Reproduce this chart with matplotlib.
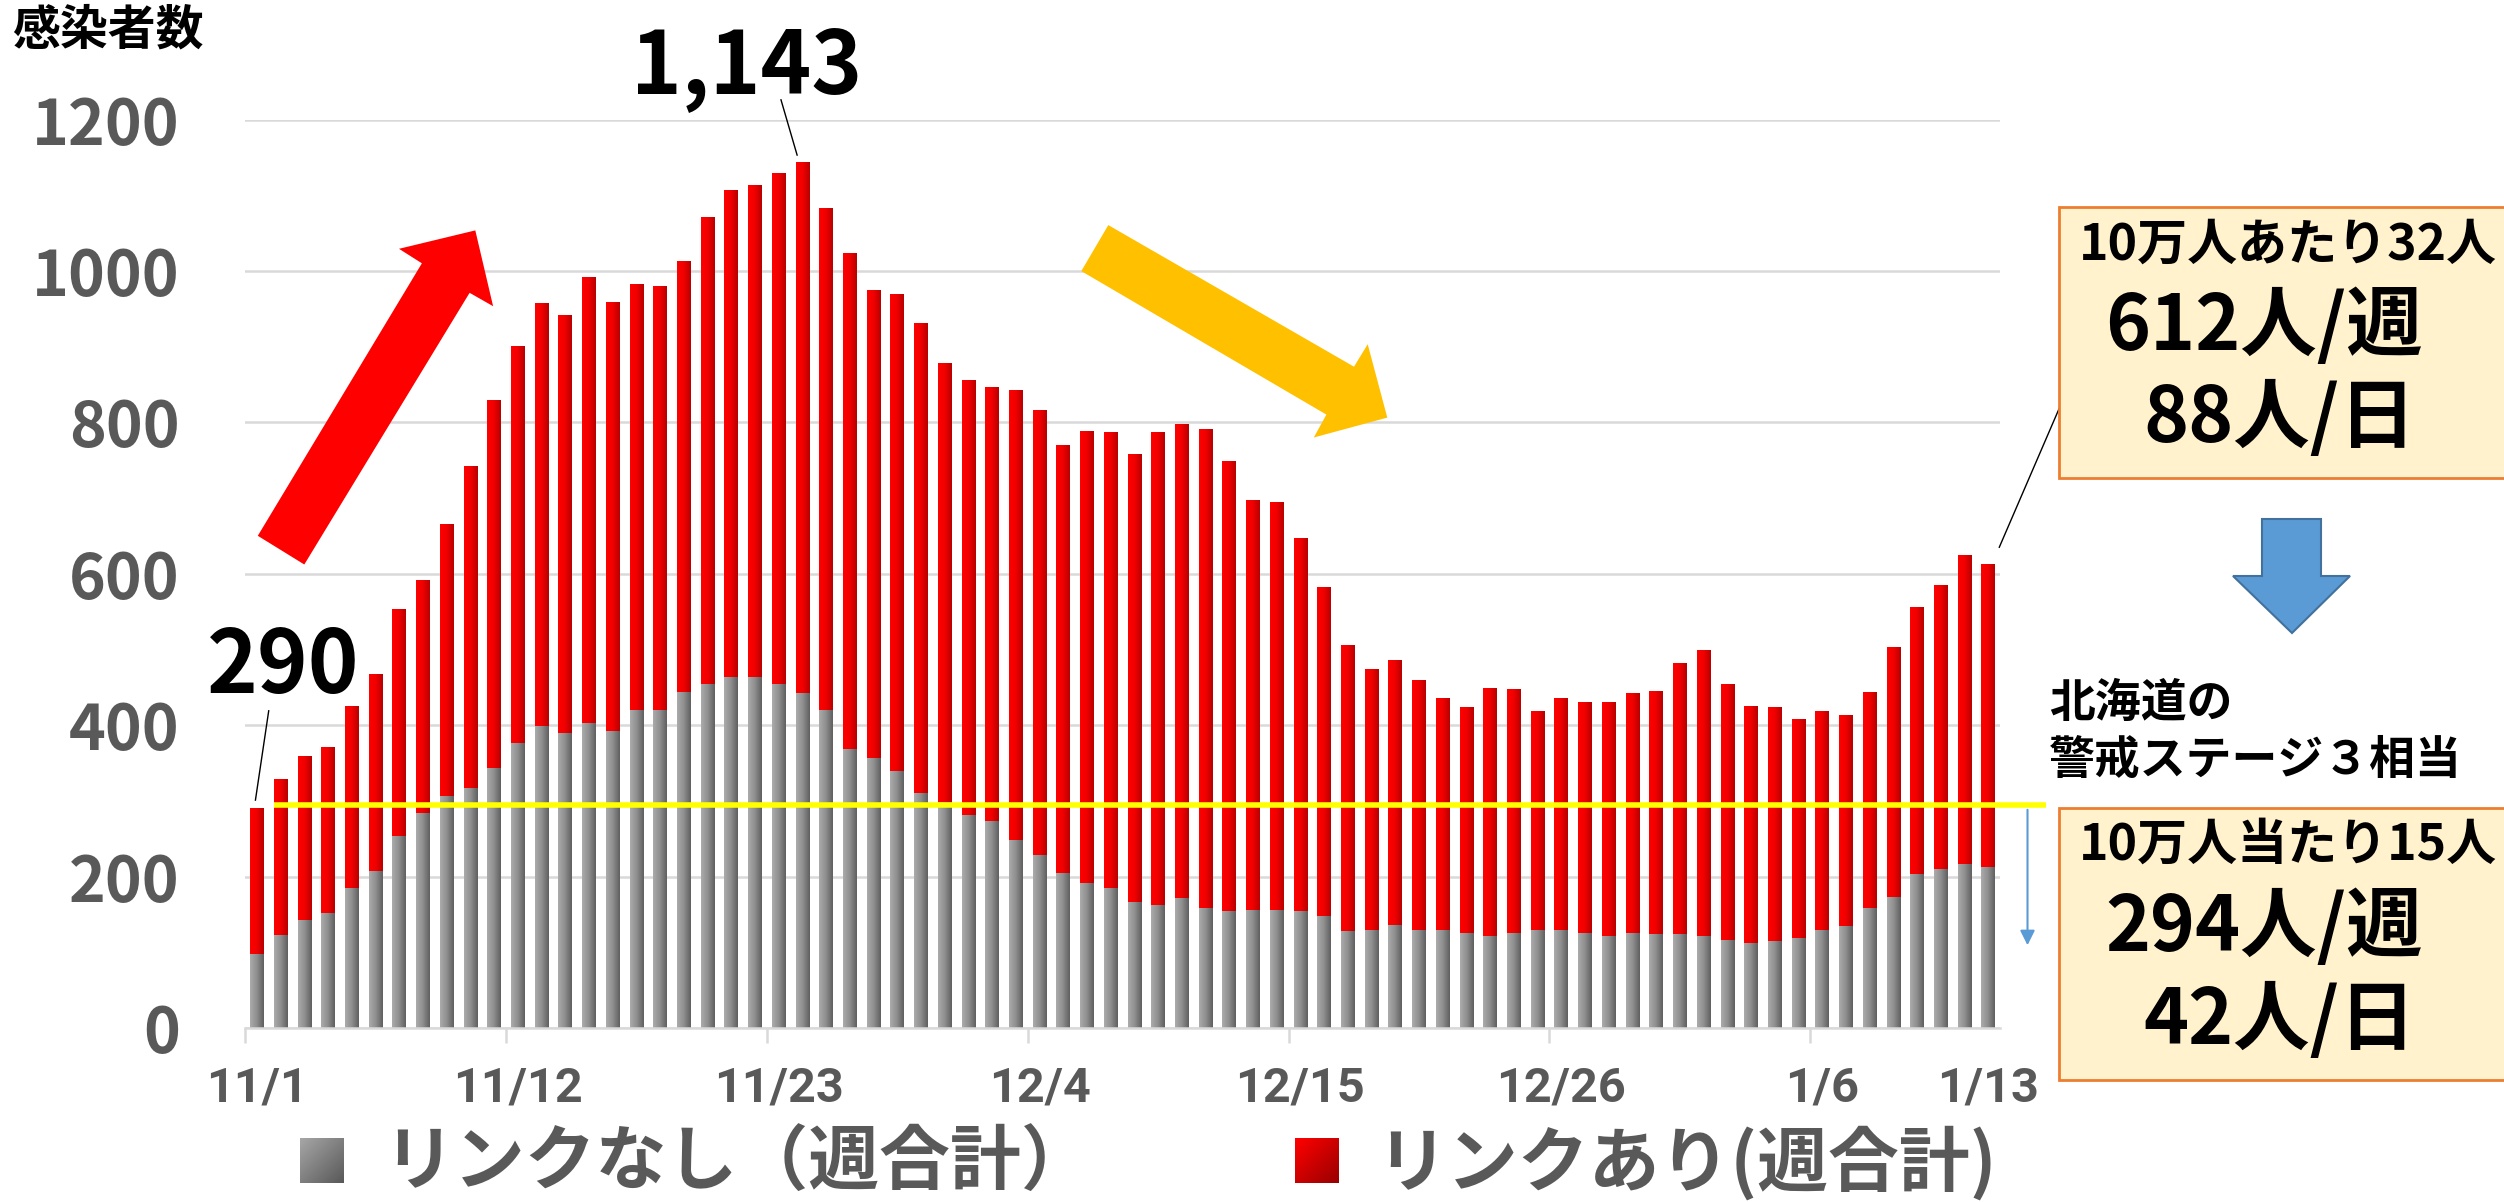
import numpy as np
import pandas as pd
import matplotlib
matplotlib.use('Agg')
import matplotlib.pyplot as plt
from matplotlib.colors import LinearSegmentedColormap
from matplotlib.patches import Polygon, Rectangle

plt.rcParams['font.family'] = ['Noto Sans CJK JP', 'DejaVu Sans']
plt.rcParams['font.weight'] = 'bold'

# data (weekly totals, 11/1 .. 1/13)
days = pd.date_range('2020-11-01', '2021-01-13')
dates = [f'{d.month}/{d.day}' for d in days]

no_link = [98, 123, 142, 152, 185, 207, 254, 284, 307, 317, 344, 376, 399, 389, 403,
           392, 420, 420, 444, 454, 464, 463, 454, 442, 420, 368, 356, 339, 311, 299,
           281, 273, 248, 228, 205, 191, 185, 167, 163, 172, 159, 155, 156, 156, 154,
           148, 128, 130, 136, 130, 130, 125, 122, 125, 130, 130, 126, 122, 125, 124,
           124, 122, 116, 112, 115, 119, 130, 135, 158, 173, 203, 210, 217, 213]
link = [192, 205, 216, 219, 240, 260, 299, 307, 359, 425, 485, 524, 558, 551, 588,
        566, 562, 559, 568, 616, 643, 649, 674, 701, 662, 655, 618, 629, 620, 579,
        574, 572, 594, 587, 565, 596, 602, 591, 624, 625, 632, 594, 541, 538, 492,
        434, 377, 344, 349, 330, 306, 298, 327, 322, 289, 306, 304, 308, 317, 320,
        357, 377, 338, 312, 309, 288, 289, 278, 285, 330, 352, 375, 407, 399]
threshold = 294  # Hokkaido stage 3 level (per week)
tick_idx = [0, 11, 22, 33, 44, 55, 66, 73]

total = [a + b for a, b in zip(no_link, link)]
W, H = 2504, 1202
GRID = '#d9d9d9'
TXT = '#595959'

fig = plt.figure(figsize=(W / 100, H / 100), dpi=100)
ax = fig.add_axes([245 / W, 1 - 1028 / H, 1755 / W, (1028 - 119.5) / H])

x = np.arange(len(dates))
bw = 0.57
b1 = ax.bar(x, no_link, width=bw, color='none', lw=0)
b2 = ax.bar(x, link, bottom=no_link, width=bw, color='none', lw=0)

gray_cmap = LinearSegmentedColormap.from_list('g', ['#ababab', '#8e8e8e', '#606060'])
red_cmap = LinearSegmentedColormap.from_list('r', ['#ff0000', '#f00000', '#b80000'])
hgrad = np.linspace(0, 1, 32).reshape(1, -1)
for bars, cm in ((b1, gray_cmap), (b2, red_cmap)):
    for p in bars:
        x0, y0 = p.get_xy()
        ax.imshow(hgrad, cmap=cm, aspect='auto', interpolation='bilinear',
                  extent=(x0, x0 + p.get_width(), y0, y0 + p.get_height()), zorder=2)

ax.set_xlim(-0.5, len(dates) - 0.5)
ax.set_ylim(0, 1200)
ax.set_yticks(range(0, 1201, 200))
ax.grid(axis='y', color=GRID, lw=1.8)
ax.set_axisbelow(True)
for s in ('left', 'right', 'top'):
    ax.spines[s].set_visible(False)
ax.spines['bottom'].set_color(GRID)
ax.spines['bottom'].set_linewidth(1.8)

ax.set_xticks(tick_idx, [dates[i] for i in tick_idx])
ax.set_xticks(np.arange(-0.5, 70, 11), minor=True)
ax.tick_params(axis='x', which='major', length=0, pad=27, labelsize=35, labelcolor=TXT)
ax.tick_params(axis='x', which='minor', length=11, width=1.8, color=GRID)
ax.tick_params(axis='y', length=0, pad=47, labelsize=45, labelcolor=TXT)
for lbl in ax.get_xticklabels():
    lbl.set_fontfamily(['Roboto', 'DejaVu Sans'])

# threshold line and peak labels
ax.plot([1 - bw / 2, 75.44], [threshold, threshold], color='#ffff00', lw=4,
        zorder=4, clip_on=False, solid_capstyle='butt')
ax.text(1.1, 442.5, f'{total[0]}', ha='center', va='baseline', fontsize=62, color='black')
ax.plot([0.5, -0.06], [419, 301], color='black', lw=1, zorder=5)
pk = int(np.argmax(total))
ax.text(20.67, 1235, f'{total[pk]:,}', ha='center', va='baseline', fontsize=62,
        color='black', clip_on=False)
ax.plot([22.1, 22.78], [1226, 1153], color='black', lw=1, zorder=5, clip_on=False)
ax.plot([73.47, 76.17], [635, 831], color='black', lw=1, zorder=5, clip_on=False)

# overlay in pixel coordinates
ov = fig.add_axes([0, 0, 1, 1])
ov.axis('off')

red_arrow = [(257.8, 535.8), (421.9, 263.3), (399, 248.8), (475.3, 230.4),
             (493.1, 306.2), (469.6, 292.8), (304.3, 564.5)]
ov.add_patch(Polygon(red_arrow, closed=True, color='#ff0000', lw=0))
org_arrow = [(1108.3, 225.1), (1354, 366.7), (1367.7, 344.2), (1387.3, 417.6),
             (1313.8, 437.5), (1326.4, 414.6), (1081.3, 271.1)]
ov.add_patch(Polygon(org_arrow, closed=True, color='#ffc000', lw=0))
blue_arrow = [(2262, 519), (2321, 519), (2321, 576), (2350, 576), (2292, 633),
              (2233, 576), (2262, 576)]
ov.add_patch(Polygon(blue_arrow, closed=True, facecolor='#5b9bd5', edgecolor='#41719c', lw=1.5))
ov.annotate('', xy=(2027.5, 948), xytext=(2027.5, 807),
            arrowprops=dict(arrowstyle='-|>', color='#5b9bd5', lw=1.5, mutation_scale=22))

for y0, y1 in ((207, 478), (808, 1080)):
    ov.add_patch(Rectangle((2059, y0), 480, y1 - y0, facecolor='#fff2cc',
                           edgecolor='#ed7d31', lw=2))

ov.text(2079, 245, '10万人あたり32人', ha='left', va='center', fontsize=36)
ov.text(2105, 327, '612人/週', ha='left', va='center', fontsize=55)
ov.text(2143, 419, '88人/日', ha='left', va='center', fontsize=55)
ov.text(2079, 845, '10万人当たり15人', ha='left', va='center', fontsize=36)
ov.text(2105, 928, '294人/週', ha='left', va='center', fontsize=55)
ov.text(2143, 1021, '42人/日', ha='left', va='center', fontsize=55)
ov.text(2049, 704, '北海道の', ha='left', va='center', fontsize=33)
ov.text(2049, 761, '警戒ステージ３相当', ha='left', va='center', fontsize=33)
ov.text(12, 30, '感染者数', ha='left', va='center', fontsize=34.5)

# legend
dgrad = (np.linspace(0, 1, 32)[None, :] + np.linspace(0, 1, 32)[:, None]) / 2
leg = [(300, '#a6a6a6', '#595959', 383, 'リンクなし（週合計）'),
       (1295, '#ff0000', '#990000', 1376, 'リンクあり(週合計)')]
for lx, c0, c1, tx, name in leg:
    cm = LinearSegmentedColormap.from_list('l', [c0, c1])
    ov.imshow(dgrad, cmap=cm, aspect='auto', interpolation='bilinear',
              extent=(lx, lx + 44, 1183, 1138))
    ov.text(tx, 1163, name, ha='left', va='center', fontsize=51, color=TXT)

ov.set_xlim(0, W)
ov.set_ylim(H, 0)

fig.savefig('out.png', dpi=100)
